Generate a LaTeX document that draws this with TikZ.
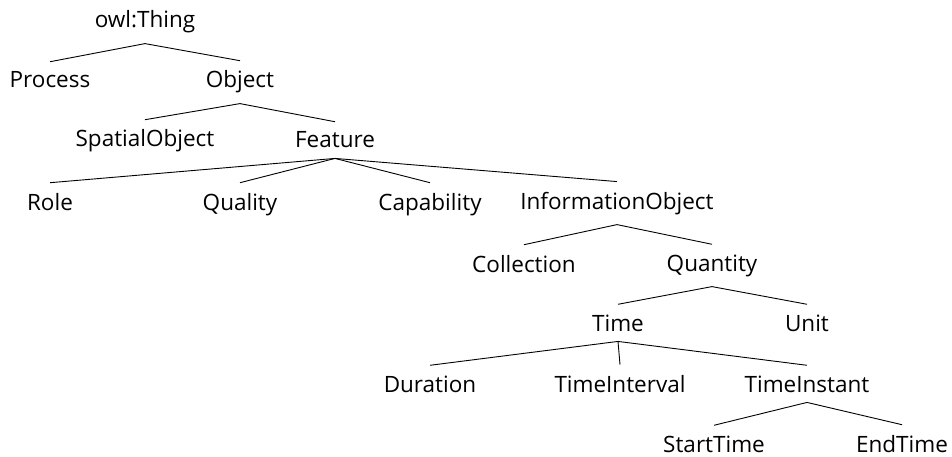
\documentclass[tikz,border=0pt]{standalone}
\usepackage{fontspec}
\setmainfont[Ligatures=NoCommon]{Open Sans}
\usetikzlibrary{positioning}
\tikzset{
	every node/.style={
		align=center,
	},
	cls/.style={anchor=base, inner xsep=2pt, inner ysep=10pt, font=\fontsize{22.5}{27}\selectfont},
	branch/.style={line width=0.9pt},
}

\begin{document}
\begin{tikzpicture}[x=1pt, y=-1pt]
		\useasboundingbox (0,0) rectangle (952,457);
		
		% top of the hierarchy
		\node[cls] (thing) at (145,28) {owl:Thing};
		\node[cls] (process) at (50,88) {Process};
		\node[cls] (object) at (240,88) {Object};
		
		\node[cls] (spatial) at (145,147) {SpatialObject};
		\node[cls] (feature) at (335,148) {Feature};
		
		\node[cls] (role) at (50,210) {Role};
		\node[cls] (quality) at (240,210) {Quality};
		\node[cls] (capability) at (430,210) {Capability};
		\node[cls] (info) at (617,209) {InformationObject};
		
		\node[cls] (collection) at (524,272) {Collection};
		\node[cls] (quantity) at (712,271) {Quantity};
		
		\node[cls] (time) at (618,331) {Time};
		\node[cls] (unit) at (807,331) {Unit};
		
		% time related classes
		\node[cls] (duration) at (430,392) {Duration};
		\node[cls] (interval) at (620,392) {TimeInterval};
		\node[cls] (instant) at (807,392) {TimeInstant};
		
		\node[cls] (start) at (714,452) {StartTime};
		\node[cls] (end) at (902,452) {EndTime};
		
		\draw[branch] (thing.south) -- (process.north);
		\draw[branch] (thing.south) -- (object.north);
		\draw[branch] (object.south) -- (spatial.north);
		\draw[branch] (object.south) -- (feature.north);
		\draw[branch] (feature.south) -- (role.north);
		\draw[branch] (feature.south) -- (quality.north);
		\draw[branch] (feature.south) -- (capability.north);
		\draw[branch] (feature.south) -- (info.north);
		\draw[branch] (info.south) -- (collection.north);
		\draw[branch] (info.south) -- (quantity.north);
		\draw[branch] (quantity.south) -- (time.north);
		\draw[branch] (quantity.south) -- (unit.north);
		\draw[branch] (time.south) -- (duration.north);
		\draw[branch] (time.south) -- (interval.north);
		\draw[branch] (time.south) -- (instant.north);
		\draw[branch] (instant.south) -- (start.north);
		\draw[branch] (instant.south) -- (end.north);
		
	\end{tikzpicture}
\end{document}
